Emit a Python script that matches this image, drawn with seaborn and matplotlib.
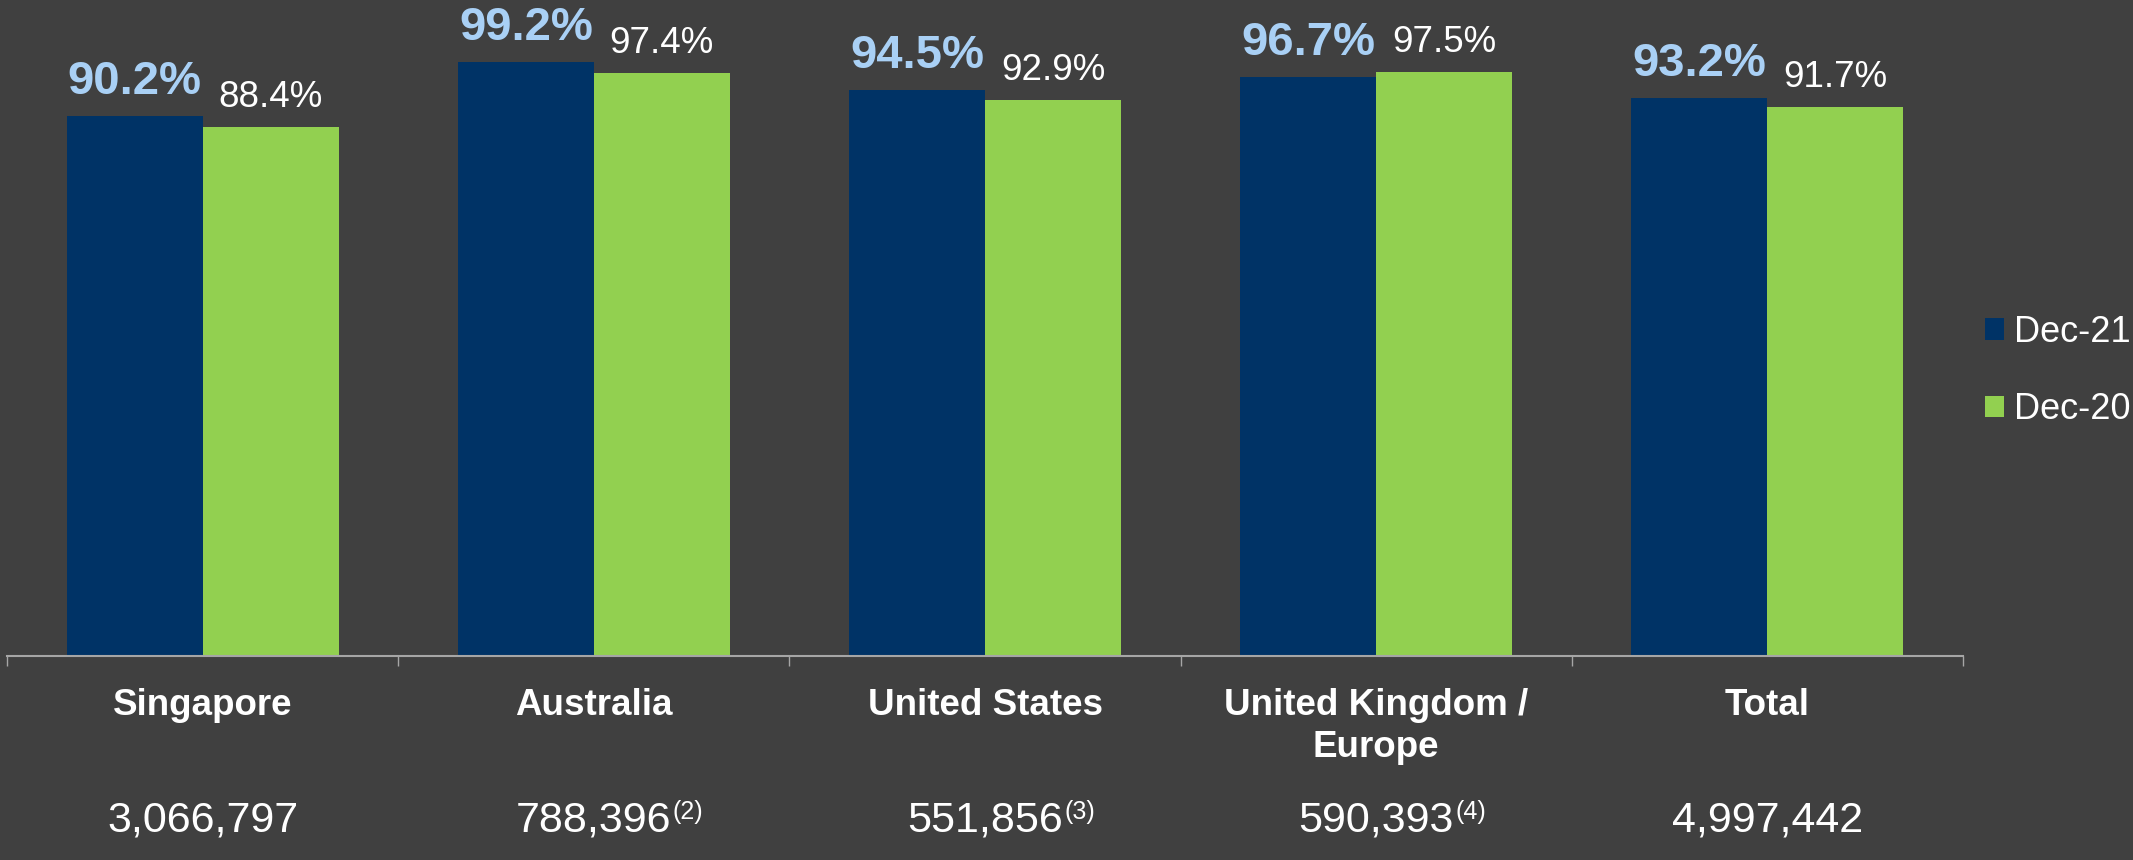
import pandas as pd
import seaborn as sns
import matplotlib.pyplot as plt
from matplotlib.ticker import FixedLocator, NullLocator

# data
categories = ["Singapore", "Australia", "United States", "United Kingdom /\nEurope", "Total"]
dec21 = [90.2, 99.2, 94.5, 96.7, 93.2]
dec20 = [88.4, 97.4, 92.9, 97.5, 91.7]
totals = ["3,066,797", "788,396", "551,856", "590,393", "4,997,442"]
footnotes = ["", "(2)", "(3)", "(4)", ""]
periods = ["Dec-21", "Dec-20"]

bg = "#404040"
navy = "#003366"
green = "#92D050"
light_blue = "#A9D0F5"

df = pd.DataFrame({
    "category": categories * 2,
    "period": [periods[0]] * len(categories) + [periods[1]] * len(categories),
    "value": dec21 + dec20,
})

sns.set_theme(style="white")
plt.rcParams["font.family"] = ["Liberation Sans", "DejaVu Sans"]

fig = plt.figure(figsize=(21.33, 8.6), dpi=100, facecolor=bg)
ax = fig.add_axes([7 / 2133, 1 - 656 / 860, 1956 / 2133, 656 / 860])
ax.set_facecolor(bg)

sns.barplot(data=df, x="category", y="value", hue="period", order=categories,
            hue_order=periods, palette=[navy, green], width=0.695, gap=0,
            saturation=1, ax=ax, linewidth=0)

ax.set_xlim(-0.5, len(categories) - 0.5)
ax.set_ylim(0, 109.6)
ax.set_xlabel("")
ax.set_ylabel("")
ax.yaxis.set_major_locator(NullLocator())
ax.xaxis.set_major_locator(FixedLocator([]))
ax.xaxis.set_minor_locator(FixedLocator([i - 0.5 for i in range(len(categories) + 1)]))
ax.tick_params(axis="x", which="minor", bottom=True, direction="out", length=7,
               width=1, color="#A6A6A6")
for s in ["top", "right", "left"]:
    ax.spines[s].set_visible(False)
ax.spines["bottom"].set_color("#A6A6A6")
ax.spines["bottom"].set_linewidth(1.5)

# value labels above bars
for k, cont in enumerate(ax.containers):
    for bar in cont:
        x = bar.get_x() + bar.get_width() / 2
        h = bar.get_height()
        if k == 0:
            ax.annotate(f"{h:.1f}%", (x, h), xytext=(0, 15.8), textcoords="offset points",
                        ha="center", va="baseline", fontsize=34, fontweight="bold",
                        color=light_blue, annotation_clip=False)
        else:
            ax.annotate(f"{h:.1f}%", (x, h), xytext=(0, 14.4), textcoords="offset points",
                        ha="center", va="baseline", fontsize=26.5, color="white",
                        annotation_clip=False)

# category names (line by line) and totals under the axis
for i, cat in enumerate(categories):
    for j, line in enumerate(cat.split("\n")):
        ax.annotate(line, (i, 0), xycoords=("data", "axes fraction"),
                    xytext=(0, -42.5 - 30.2 * j), textcoords="offset points",
                    ha="center", va="baseline", fontsize=26.5, fontweight="bold",
                    color="white", annotation_clip=False)
    t = ax.annotate(totals[i], (i, 0), xycoords=("data", "axes fraction"), xytext=(0, -126.7),
                    textcoords="offset points", ha="center", va="baseline",
                    fontsize=31, color="white", annotation_clip=False)
    if footnotes[i]:
        ax.annotate(footnotes[i], (1, 1), xycoords=t, xytext=(1, 1),
                    textcoords="offset points", ha="left", va="top",
                    fontsize=18, color="white", annotation_clip=False)

sns.move_legend(ax, "center left", bbox_to_anchor=(1985 / 2133, 1 - 371 / 860),
                bbox_transform=fig.transFigure, title=None, frameon=False,
                fontsize=26, handlelength=0.53, handleheight=0.53, handletextpad=0.28,
                labelspacing=1.18, borderpad=0, borderaxespad=0)
for txt in ax.get_legend().get_texts():
    txt.set_color("white")

fig.savefig("out.png", dpi=100, facecolor=bg)
